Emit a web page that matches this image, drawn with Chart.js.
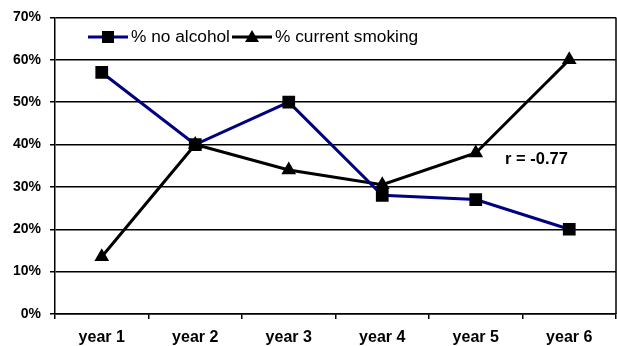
<!DOCTYPE html>
<html>
<head>
<meta charset="utf-8">
<script src="https://cdn.jsdelivr.net/npm/chart.js@4"></script>
<style>
  body { margin: 0; background: #fff; }
  canvas { display: block; }
</style>
</head>
<body>
<canvas id="trendChart" width="617" height="346"></canvas>
<script>
const years = ["year 1", "year 2", "year 3", "year 4", "year 5", "year 6"];
const noAlcohol = [57, 40, 50, 28, 27, 20];
const currentSmoking = [13.5, 40, 34, 30.5, 38, 60];
const seriesNames = ["% no alcohol", "% current smoking"];
const rLabel = "r = -0.77";

// legend + correlation text drawn inside the plot area
const overlay = {
    id: "overlay",
    afterDatasetsDraw(chart) {
        const ctx = chart.ctx;
        const y = 37;
        const items = [
            { x: 88, color: "#000080", style: "rect", text: seriesNames[0] },
            { x: 232, color: "#000000", style: "triangle", text: seriesNames[1] }
        ];
        ctx.save();
        items.forEach(function (it) {
            ctx.strokeStyle = it.color;
            ctx.lineWidth = 3;
            ctx.beginPath();
            ctx.moveTo(it.x, y);
            ctx.lineTo(it.x + 40, y);
            ctx.stroke();
            ctx.fillStyle = "#000";
            if (it.style === "rect") {
                ctx.fillRect(it.x + 14, y - 6, 12, 12);
            } else {
                ctx.beginPath();
                ctx.moveTo(it.x + 20, y - 7);
                ctx.lineTo(it.x + 27, y + 5);
                ctx.lineTo(it.x + 13, y + 5);
                ctx.closePath();
                ctx.fill();
            }
            ctx.font = "17.3px 'Liberation Sans', Arial, sans-serif";
            ctx.textBaseline = "middle";
            ctx.fillText(it.text, it.x + 43, y);
        });
        ctx.font = "bold 16.5px 'Liberation Sans', Arial, sans-serif";
        ctx.fillText(rLabel, 505, 159);

        // right border of the plot
        const a = chart.chartArea;
        ctx.strokeStyle = "#000";
        ctx.lineWidth = 1.5;
        ctx.beginPath();
        ctx.moveTo(a.right, a.top);
        ctx.lineTo(a.right, a.bottom);
        ctx.stroke();
        ctx.restore();
    }
};

new Chart("trendChart", {
    type: "line",
    data: {
        labels: years,
        datasets: [
            {
                label: seriesNames[0],
                data: noAlcohol,
                borderColor: "#000080",
                borderWidth: 3,
                pointStyle: "rect",
                pointRadius: 9,
                pointBackgroundColor: "#000",
                pointBorderColor: "#000",
                pointBorderWidth: 0,
                tension: 0
            },
            {
                label: seriesNames[1],
                data: currentSmoking,
                borderColor: "#000",
                borderWidth: 3,
                pointStyle: "triangle",
                pointRadius: 8.5,
                pointBackgroundColor: "#000",
                pointBorderColor: "#000",
                pointBorderWidth: 0,
                tension: 0
            }
        ]
    },
    options: {
        responsive: false,
        animation: false,
        layout: { autoPadding: false, padding: { top: 17, right: 1, left: 0, bottom: 0 } },
        plugins: {
            legend: { display: false },
            tooltip: { enabled: false }
        },
        scales: {
            x: {
                offset: true,
                grid: { offset: true, drawOnChartArea: false, drawTicks: true, tickLength: 5, color: "#000", lineWidth: 1.5 },
                border: { color: "#000", width: 1.5 },
                ticks: {
                    color: "#000",
                    padding: 9,
                    font: { family: "'Liberation Sans', Arial", size: 16, weight: "bold" },
                    maxRotation: 0
                },
                afterFit(scale) {
                    scale.height = 32;
                    scale.paddingLeft = 0;
                    scale.paddingRight = 0;
                }
            },
            y: {
                min: 0,
                max: 70,
                ticks: {
                    stepSize: 10,
                    color: "#000",
                    padding: 9,
                    font: { family: "'Liberation Sans', Arial", size: 14, weight: "bold" },
                    callback: function (v) { return v + "%"; }
                },
                grid: { color: "#000", lineWidth: 1.5, tickLength: 5 },
                border: { color: "#000", width: 1.5 },
                afterFit(scale) { scale.width = 55; }
            }
        }
    },
    plugins: [overlay]
});
</script>
</body>
</html>
